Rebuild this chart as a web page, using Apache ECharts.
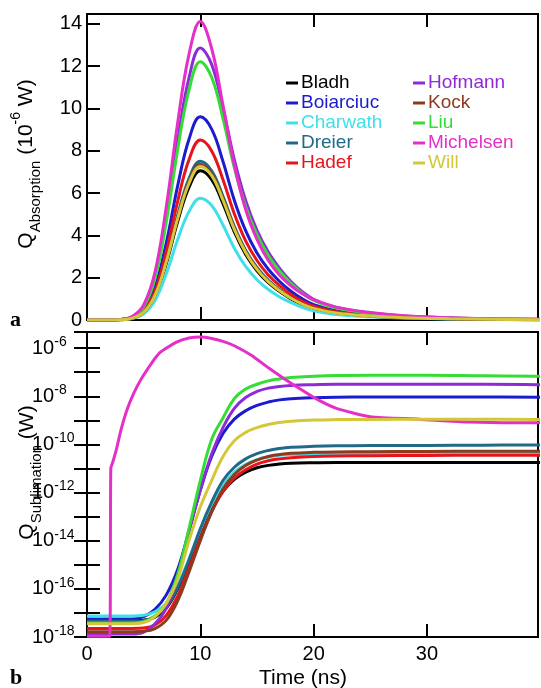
<html lang="en">
<head>
  <meta charset="utf-8"/>
  <script src="https://cdn.jsdelivr.net/npm/echarts@6/dist/echarts.min.js"></script>
  <style>
    html, body { margin: 0; padding: 0; background: #fff; }
    #chart { width: 541px; height: 688px; }
  </style>
</head>
<body>
<div id="chart"></div>
<script>
    // model names and colours
    var names = ['Bladh', 'Boiarciuc', 'Charwath', 'Dreier', 'Hadef', 'Hofmann', 'Kock', 'Liu', 'Michelsen', 'Will'];
    var colors = ['#000000', '#1c1ccf', '#40e0e8', '#206a88', '#e8141c', '#8e2bd8', '#8c3b1e', '#33dd33', '#e52fc8', '#d4c83a'];

    // panel a: absorption (10^-6 W)
    var absTime = [0, 2, 3, 4, 5, 6, 7, 8, 9, 10, 11, 12, 13, 14, 15, 16, 17, 18, 19, 20, 22, 25, 28, 32, 36, 40];
    var absBladh = [0, 0, 0.01, 0.08, 0.35, 1.13, 2.68, 4.65, 6.27, 7.05, 6.63, 5.50, 4.16, 3.10, 2.33, 1.76, 1.34, 1.00, 0.73, 0.54, 0.32, 0.18, 0.11, 0.06, 0.03, 0.01];
    var absBoiarciuc = [0, 0, 0.02, 0.12, 0.48, 1.54, 3.65, 6.34, 8.54, 9.6, 9.02, 7.49, 5.66, 4.22, 3.17, 2.40, 1.82, 1.36, 1.00, 0.73, 0.44, 0.25, 0.14, 0.08, 0.04, 0.02];
    var absCharwath = [0, 0, 0.01, 0.07, 0.29, 0.92, 2.19, 3.80, 5.12, 5.75, 5.41, 4.49, 3.39, 2.53, 1.90, 1.44, 1.09, 0.82, 0.60, 0.44, 0.26, 0.15, 0.09, 0.05, 0.02, 0.01];
    var absDreier = [0, 0, 0.02, 0.09, 0.38, 1.2, 2.85, 4.95, 6.68, 7.5, 7.05, 5.85, 4.43, 3.30, 2.48, 1.88, 1.43, 1.07, 0.78, 0.57, 0.35, 0.20, 0.11, 0.06, 0.03, 0.02];
    var absHadef = [0, 0, 0.02, 0.1, 0.43, 1.36, 3.23, 5.61, 7.57, 8.5, 7.99, 6.63, 5.02, 3.74, 2.81, 2.13, 1.62, 1.21, 0.88, 0.65, 0.39, 0.22, 0.13, 0.07, 0.03, 0.02];
    var absHofmann = [0, 0, 0.03, 0.15, 0.64, 2.06, 4.88, 8.48, 11.44, 12.85, 12.08, 10.02, 7.58, 5.65, 4.24, 3.21, 2.44, 1.82, 1.34, 0.98, 0.59, 0.33, 0.19, 0.10, 0.05, 0.03];
    var absKock = [0, 0, 0.01, 0.09, 0.37, 1.18, 2.79, 4.85, 6.54, 7.35, 6.91, 5.73, 4.34, 3.23, 2.43, 1.84, 1.40, 1.04, 0.76, 0.56, 0.34, 0.19, 0.11, 0.06, 0.03, 0.01];
    var absLiu = [0, 0, 0.02, 0.15, 0.61, 1.95, 4.64, 8.05, 10.86, 12.2, 11.47, 9.52, 7.20, 5.37, 4.03, 3.05, 2.32, 1.73, 1.27, 0.93, 0.56, 0.32, 0.18, 0.10, 0.05, 0.02];
    var absMichelsen = [0, 0, 0.03, 0.17, 0.71, 2.26, 5.36, 9.31, 12.55, 14.1, 12.83, 10.15, 7.33, 5.22, 3.81, 2.82, 2.12, 1.62, 1.24, 0.96, 0.61, 0.35, 0.20, 0.11, 0.06, 0.03];
    var absWill = [0, 0, 0.01, 0.09, 0.36, 1.16, 2.76, 4.79, 6.45, 7.25, 6.82, 5.66, 4.28, 3.19, 2.39, 1.81, 1.38, 1.03, 0.75, 0.55, 0.33, 0.19, 0.11, 0.06, 0.03, 0.01];

    // panel b: sublimation, stored as log10(W)
    var subTime = [0, 2, 3, 4, 5, 6, 7, 8, 9, 10, 11, 12, 13, 14, 15, 16, 17, 18, 20, 22, 25, 30, 35, 40];
    var subBladh = [-17.32, -17.32, -17.32, -17.32, -17.3, -17.18, -16.8, -16.0, -14.9, -13.7, -12.7, -11.95, -11.45, -11.15, -10.97, -10.87, -10.81, -10.78, -10.76, -10.75, -10.75, -10.75, -10.75, -10.75];
    var subBoiarciuc = [-17.25, -17.25, -17.25, -17.25, -17.15, -16.85, -16.25, -15.2, -13.6, -11.9, -10.5, -9.55, -8.95, -8.6, -8.38, -8.24, -8.15, -8.1, -8.06, -8.04, -8.03, -8.03, -8.03, -8.04];
    var subCharwath = [-17.13, -17.13, -17.13, -17.13, -17.1, -16.95, -16.6, -15.85, -14.75, -13.55, -12.5, -11.7, -11.15, -10.83, -10.63, -10.52, -10.45, -10.42, -10.4, -10.39, -10.38, -10.38, -10.38, -10.38];
    var subDreier = [-17.35, -17.35, -17.35, -17.35, -17.32, -17.15, -16.75, -15.95, -14.8, -13.5, -12.4, -11.5, -10.95, -10.6, -10.38, -10.25, -10.17, -10.12, -10.08, -10.06, -10.05, -10.04, -10.03, -10.02];
    var subHadef = [-17.65, -17.65, -17.65, -17.65, -17.63, -17.5, -17.1, -16.3, -15.15, -13.9, -12.8, -11.95, -11.4, -11.05, -10.82, -10.68, -10.6, -10.55, -10.5, -10.48, -10.47, -10.46, -10.45, -10.45];
    var subHofmann = [-17.88, -17.88, -17.88, -17.88, -17.8, -17.45, -16.8, -15.5, -13.6, -11.9, -10.4, -9.3, -8.5, -8.05, -7.8, -7.66, -7.59, -7.55, -7.52, -7.5, -7.5, -7.5, -7.5, -7.52];
    var subKock = [-17.78, -17.78, -17.78, -17.78, -17.76, -17.65, -17.3, -16.5, -15.3, -14.0, -12.8, -11.85, -11.25, -10.88, -10.65, -10.5, -10.42, -10.37, -10.33, -10.31, -10.3, -10.29, -10.28, -10.28];
    var subLiu = [-17.42, -17.42, -17.42, -17.42, -17.36, -17.12, -16.6, -15.4, -13.5, -11.5, -9.8, -8.9, -8.1, -7.7, -7.5, -7.36, -7.28, -7.22, -7.17, -7.14, -7.13, -7.13, -7.15, -7.17];
    var subWill = [-17.45, -17.45, -17.45, -17.45, -17.4, -17.15, -16.6, -15.6, -14.0, -12.6, -11.5, -10.5, -9.85, -9.5, -9.3, -9.17, -9.09, -9.04, -8.99, -8.97, -8.96, -8.95, -8.95, -8.96];
    // Michelsen has its own time points (jump at ~2 ns)
    var michTime = [0, 2.0, 2.1, 2.3, 2.6, 3.0, 3.5, 4.1, 4.7, 5.3, 6.4, 7.9, 9, 10, 11, 12, 13, 14.5, 16.1, 17.4, 19, 20.4, 22, 25, 29.3, 33.7, 38, 40];
    var subMichelsen = [-17.97, -17.97, -11.0, -10.7, -10.2, -9.4, -8.6, -7.9, -7.35, -6.9, -6.2, -5.75, -5.58, -5.54, -5.6, -5.72, -5.9, -6.3, -6.85, -7.27, -7.75, -8.15, -8.5, -8.85, -8.95, -9.07, -9.1, -9.1];

    var xTicks = [0, 10, 20, 30];
    var absTicks = [0, 2, 4, 6, 8, 10, 12, 14];
    var subLabelExps = [-18, -16, -14, -12, -10, -8, -6];

    var absData = [absBladh, absBoiarciuc, absCharwath, absDreier, absHadef, absHofmann, absKock, absLiu, absMichelsen, absWill];
    var subData = [subBladh, subBoiarciuc, subCharwath, subDreier, subHadef, subHofmann, subKock, subLiu, subMichelsen, subWill];

    function pairs(xs, ys) {
        return ys.map(function (y, i) { return [xs[i], y]; });
    }

    var font = 'Liberation Sans, Arial, sans-serif';
    var series = [];
    names.forEach(function (n, i) {
        series.push({
            name: n, type: 'line', xAxisIndex: 0, yAxisIndex: 0,
            data: pairs(absTime, absData[i]), color: colors[i],
            showSymbol: false, symbol: 'none', smooth: 0.4,
            lineStyle: {width: 3}
        });
    });
    names.forEach(function (n, i) {
        series.push({
            name: n, type: 'line', xAxisIndex: 2, yAxisIndex: 1,
            data: pairs(n === 'Michelsen' ? michTime : subTime, subData[i]), color: colors[i],
            showSymbol: false, symbol: 'none', smooth: n === 'Michelsen' ? 0.2 : 0.4,
            lineStyle: {width: 3}
        });
    });

    function legendItems(list) {
        return list.map(function (n) {
            return {name: n, textStyle: {color: colors[names.indexOf(n)]}};
        });
    }
    var legendBase = {
        orient: 'vertical', top: 73, itemWidth: 12, itemHeight: 3, itemGap: 0, padding: 0,
        icon: 'rect', selectedMode: false,
        textStyle: {fontFamily: font, fontSize: 19, lineHeight: 20, padding: [0, 0, 0, -2]}
    };

    var tick = {show: true, inside: true, length: 13, lineStyle: {color: '#000', width: 2}};
    var noLine = {show: false};
    var labelText = {color: '#000', fontFamily: font, fontSize: 20};
    var rich = {
        b: {fontFamily: font, fontSize: 20, lineHeight: 26, color: '#000'},
        s: {fontFamily: font, fontSize: 14, lineHeight: 14, verticalAlign: 'top', color: '#000'}
    };
    var nameRich = {
        q: {fontFamily: font, fontSize: 21, lineHeight: 34, color: '#000'},
        sub: {fontFamily: font, fontSize: 15, lineHeight: 15, verticalAlign: 'bottom', color: '#000'},
        sup: {fontFamily: font, fontSize: 14, lineHeight: 14, verticalAlign: 'top', color: '#000'}
    };

    function timeAxis(grid, pos, labels) {
        return {
            type: 'value', gridIndex: grid, position: pos, min: 0, max: 39.8, interval: 10,
            axisLine: noLine, axisTick: tick, splitLine: {show: false},
            axisLabel: {show: labels, margin: 7, showMaxLabel: false, textStyle: labelText,
                formatter: function (v) { return xTicks.indexOf(v) >= 0 ? String(v) : ''; }}
        };
    }

    var botX = timeAxis(1, 'bottom', true);
    botX.name = 'Time (ns)';
    botX.nameLocation = 'middle';
    botX.nameGap = 31;
    botX.nameMoveOverlap = false;
    botX.nameTextStyle = {fontFamily: font, fontSize: 21, color: '#000', padding: [0, 19, 0, 0]};

    var option = {
        animation: false,
        backgroundColor: '#fff',
        grid: [
            {left: 87, top: 14, width: 451, height: 306, show: true, borderColor: '#000', borderWidth: 2,
                containLabel: false, outerBoundsMode: 'none'},
            {left: 87, top: 332, width: 451, height: 305, show: true, borderColor: '#000', borderWidth: 2,
                containLabel: false, outerBoundsMode: 'none'}
        ],
        legend: [
            Object.assign({}, legendBase, {left: 286, data: legendItems(names.slice(0, 5))}),
            Object.assign({}, legendBase, {left: 413, data: legendItems(names.slice(5))})
        ],
        xAxis: [
            timeAxis(0, 'bottom', false),
            timeAxis(0, 'top', false),
            botX,
            timeAxis(1, 'top', false)
        ],
        yAxis: [
            {
                type: 'value', gridIndex: 0, min: 0, max: 14.46, interval: 2,
                axisLine: noLine, axisTick: tick, splitLine: {show: false},
                axisLabel: {margin: 5, showMaxLabel: false, textStyle: labelText,
                    formatter: function (v) { return absTicks.indexOf(v) >= 0 ? String(v) : ''; }},
                name: '{q|Q}{sub|Absorption}{q| (10}{sup|-6}{q| W)}',
                nameLocation: 'middle', nameRotate: 90, nameGap: 44, nameMoveOverlap: false,
                nameTextStyle: {rich: nameRich, padding: [0, 0, 0, 6]}
            },
            {
                type: 'value', gridIndex: 1, min: -18, max: -5.33, interval: 1,
                axisLine: noLine, axisTick: tick, splitLine: {show: false},
                axisLabel: {margin: 55, align: 'left', showMaxLabel: false, rich: rich,
                    formatter: function (v) {
                        return subLabelExps.indexOf(v) >= 0 ? '{b|10}{s|' + v + '}' : '';
                    }},
                name: '{q|Q}{sub|Sublimation}{q| (W)}',
                nameLocation: 'middle', nameRotate: 90, nameGap: 43, nameMoveOverlap: false,
                nameTextStyle: {rich: nameRich, padding: [0, 0, 0, 24]}
            },
            {
                type: 'value', gridIndex: 1, position: 'right', min: -18, max: -5.33, interval: 1,
                axisLine: noLine, axisTick: tick, splitLine: {show: false}, axisLabel: {show: false}
            }
        ],
        graphic: [
            {type: 'text', left: 10, top: 309, style: {text: 'a', fill: '#000', font: 'bold 22px "Liberation Serif", serif'}},
            {type: 'text', left: 10, top: 667, style: {text: 'b', fill: '#000', font: 'bold 22px "Liberation Serif", serif'}}
        ],
        series: series
    };

    var myChart = echarts.init(document.getElementById('chart'), null, {renderer: 'canvas'});
    myChart.setOption(option);
</script>
</body>
</html>
